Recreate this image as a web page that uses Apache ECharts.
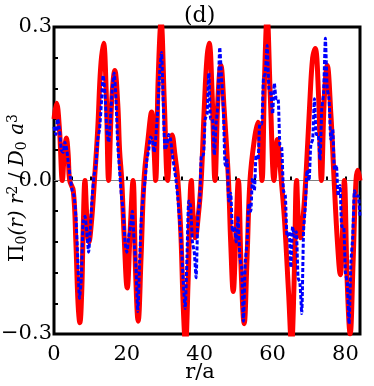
<!DOCTYPE html>
<html>
<head>
<meta charset="utf-8">
<script src="https://cdn.jsdelivr.net/npm/echarts@6/dist/echarts.min.js"></script>
<style>
    html,body{margin:0;padding:0;background:#fff;}
    #chart{width:374px;height:386px;}
</style>
</head>
<body>
<div id="chart"></div>
<script>
// 红线 (关键点 r, 值)
var redR = [0, 0.7, 1.5, 2.3, 2.8, 3.4, 3.9, 4.3, 5.3, 6.0, 6.6, 7.1, 7.6, 8.0, 8.5, 9.0, 9.6, 10.3, 11.1,
    12.0, 12.8, 13.6, 14.3, 15.0, 15.8, 16.7, 17.5, 18.0, 18.6, 19.2, 20.1, 20.9, 21.7, 22.4, 23.1, 23.9, 24.7,
    25.8, 26.8, 27.4, 27.9, 28.6, 29.4, 30.3, 31.2, 31.8, 32.4, 33.2, 34.0, 34.8, 35.5, 36.1, 36.8, 37.7,
    38.2, 38.8, 39.6, 40.4, 41.3, 42.0, 42.6, 43.4, 44.2, 45.0, 45.8, 46.7, 47.9, 48.5, 49.2, 49.9, 50.6,
    51.4, 52.2, 53.0, 53.8, 55.0, 56.0, 56.6, 57.1, 57.8, 58.5, 59.4, 60.4, 60.9, 61.3, 61.9, 62.4, 63.3,
    64.4, 65.2, 65.9, 66.6, 67.1, 67.7, 68.4, 69.1, 70.2, 71.0, 71.7, 72.6, 73.4, 74.2, 75.0, 76.0, 76.9,
    77.8, 78.6, 79.2, 79.7, 80.5, 81.3, 82.1, 82.9, 83.4, 84];
var redV = [0.12, 0.151, 0.10, 0.0, 0.05, 0.083, 0.05, 0.0, -0.02, -0.12, -0.24, -0.278, -0.22, -0.10, 0.0, -0.07, -0.12, -0.08, 0.0,
    0.10, 0.22, 0.268, 0.18, 0.0, 0.15, 0.215, 0.15, 0.06, 0.0, -0.10, -0.21, -0.10, 0.0, -0.18, -0.275, -0.15, 0.0,
    0.08, 0.134, 0.07, 0.0, 0.20, 0.31, 0.15, 0.0, 0.06, 0.089, 0.05, 0.0, -0.10, -0.25, -0.32, -0.20, 0.0,
    -0.07, -0.112, -0.07, 0.0, 0.15, 0.24, 0.268, 0.17, 0.0, 0.16, 0.225, 0.14, 0.0, -0.12, -0.217, -0.11, 0.0,
    -0.18, -0.28, -0.15, 0.0, 0.08, 0.114, 0.06, 0.0, 0.20, 0.32, 0.16, 0.0, 0.05, 0.08, 0.04, 0.0, -0.08,
    -0.22, -0.32, -0.20, 0.0, -0.08, -0.112, -0.07, 0.0, 0.15, 0.24, 0.258, 0.17, 0.0, 0.16, 0.225, 0.13, 0.0,
    -0.12, -0.184, -0.10, 0.0, -0.20, -0.30, -0.16, 0.0, 0.02, 0.0];

// 蓝色虚线 (每 0.5 一个点, 从 r=0 开始), 后半段抖动较大
var blueStep = 0.5;
var blueV = [0.105, 0.09, 0.12, 0.10, 0.06, 0.055, 0.075, 0.06, 0.03, 0.005,
    -0.02, -0.03, -0.07, -0.15, -0.23, -0.19, -0.08, -0.07, -0.10, -0.14,
    -0.09, -0.03, 0.01, 0.03, 0.08, 0.10, 0.15, 0.205, 0.17, 0.10,
    0.075, 0.12, 0.18, 0.21, 0.16, 0.07, 0.02, -0.03, -0.06, -0.12,
    -0.14, -0.11, -0.09, -0.06, -0.12, -0.17, -0.256, -0.16, -0.07, -0.03,
    0.0, 0.04, 0.06, 0.085, 0.08, 0.055, 0.09, 0.14, 0.21, 0.25,
    0.15, 0.06, 0.07, 0.09, 0.08, 0.05, 0.025, 0.0, -0.035, -0.08,
    -0.13, -0.20, -0.25, -0.15, -0.04, -0.05,
    -0.12, -0.14, -0.19, -0.07, -0.04, 0.05, 0.05, 0.12, 0.13, 0.21,
    0.12, 0.12, 0.05, 0.11, 0.15, 0.26, 0.20, 0.14, 0.03, 0.04,
    -0.04, -0.025, -0.10, -0.09, -0.12, -0.07, -0.15, -0.17, -0.275, -0.16,
    -0.12, -0.045, -0.06, 0.005, -0.02, 0.05, 0.04, 0.11, 0.11, 0.20,
    0.21, 0.264, 0.18, 0.17, 0.13, 0.19, 0.16, 0.16, 0.07, 0.065,
    -0.02, -0.03, -0.11, -0.10, -0.17, -0.09, -0.11, -0.10, -0.19, -0.20,
    -0.26, -0.10, -0.05, 0.02, 0.0, 0.07, 0.08, 0.16, 0.09, 0.09,
    0.04, 0.14, 0.17, 0.278, 0.18, 0.16, 0.08, 0.10, 0.02, 0.03,
    -0.03, -0.01, -0.09, -0.09, -0.18, -0.20, -0.28, -0.16, -0.11, -0.02,
    -0.03, -0.03, -0.07];

var xMin = 0, xMax = 84;
var yMin = -0.3, yMax = 0.3;
var xLabels = [0, 20, 40, 60, 80];
var yLabels = ['-0.3', '0.0', '0.3'];

var redData = [];
for (var i = 0; i < redR.length; i++) {
    redData.push([redR[i], redV[i]]);
}
var blueData = [];
for (var j = 0; j < blueV.length; j++) {
    blueData.push([j * blueStep, blueV[j]]);
}

var serif = 'DejaVu Serif';
var chart = echarts.init(document.getElementById('chart'));
var option = {
    animation: false,
    title: {
        text: '(d)',
        left: 179,
        top: 0,
        textStyle: {fontFamily: serif, fontWeight: 'normal', fontSize: 22, color: '#000'}
    },
    graphic: [
        // y轴标题 (上下标用小字号)
        {
            type: 'text',
            x: 18,
            y: 188,
            rotation: Math.PI / 2,
            style: {
                text: '{u|Π}{sb|0}{i|(r) r}{sp|2}{u| / }{i|D}{sb|0}{i| a}{sp|3}',
                align: 'center',
                verticalAlign: 'middle',
                rich: {
                    u: {fontFamily: serif, fontSize: 20, lineHeight: 30, fill: '#000', color: '#000'},
                    i: {fontFamily: serif, fontStyle: 'italic', fontSize: 20, lineHeight: 30, fill: '#000', color: '#000'},
                    sb: {fontFamily: serif, fontSize: 14, lineHeight: 30, verticalAlign: 'bottom', padding: [0, 0, 4, 0], fill: '#000', color: '#000'},
                    sp: {fontFamily: serif, fontSize: 14, lineHeight: 30, verticalAlign: 'top', padding: [3, 0, 0, 0], fill: '#000', color: '#000'}
                }
            }
        },
        // x轴标题
        {
            type: 'text',
            x: 200,
            y: 373,
            style: {
                text: 'r/a',
                align: 'center',
                verticalAlign: 'middle',
                font: '21px "DejaVu Serif"',
                fill: '#000'
            }
        }
    ],
    grid: {
        left: 54, right: 14, top: 27, bottom: 52,
        containLabel: false,
        outerBoundsMode: 'none',
        show: true,
        borderColor: '#000',
        borderWidth: 3,
        backgroundColor: '#fff'
    },
    xAxis: {
        type: 'value',
        min: xMin, max: xMax,
        interval: 5,
        axisLine: {show: false},
        splitLine: {show: false},
        axisTick: {inside: true, length: 4, lineStyle: {color: '#000', width: 2}},
        axisLabel: {
            margin: 10,
            fontFamily: serif, fontSize: 21, color: '#000',
            formatter: function (v) {
                return xLabels.indexOf(v) >= 0 ? String(v) : '';
            }
        }
    },
    yAxis: {
        type: 'value',
        min: yMin, max: yMax,
        interval: 0.06,
        axisLine: {show: false},
        splitLine: {show: false},
        axisTick: {inside: true, length: 4, lineStyle: {color: '#000', width: 2}},
        axisLabel: {
            margin: 2,
            fontFamily: serif, fontSize: 21, color: '#000',
            formatter: function (v) {
                var s = v.toFixed(1);
                if (s === '-0.0') s = '0.0';
                if (yLabels.indexOf(s) < 0 || Math.abs(v * 100 % 30) > 0.01 && s !== '0.0') return '';
                return s.replace('-', '\u2212');
            }
        }
    },
    series: [
        {
            name: 'zero',
            type: 'line',
            data: [[xMin, 0], [xMax, 0]],
            symbol: 'none',
            lineStyle: {color: '#808080', width: 1},
            z: 1
        },
        {
            name: 'red',
            type: 'line',
            data: redData,
            smooth: 0.4,
            symbol: 'none',
            lineStyle: {color: '#ff0000', width: 5},
            z: 2
        },
        {
            name: 'blue',
            type: 'line',
            data: blueData,
            smooth: 0.2,
            symbol: 'none',
            lineStyle: {color: '#0000ff', width: 3, type: [4, 2]},
            z: 3
        }
    ]
};
chart.setOption(option);
</script>
</body>
</html>
